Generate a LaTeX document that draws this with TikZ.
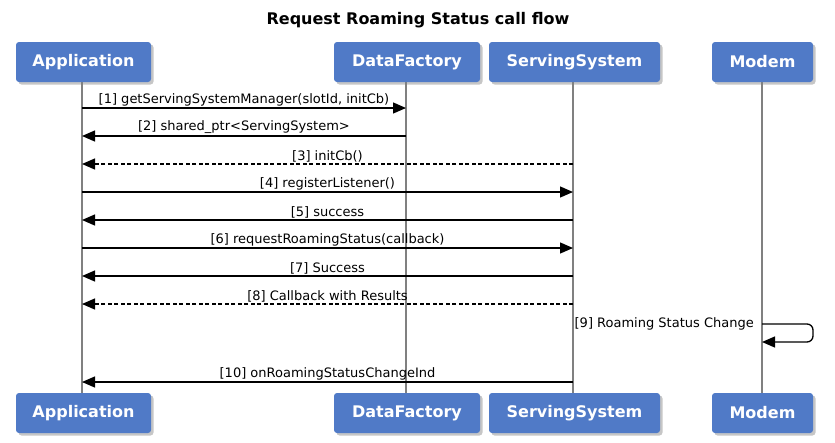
\documentclass[tikz,border=0pt]{standalone}
\usepackage{fontspec}
\setmainfont{DejaVu Sans}
\usetikzlibrary{arrows.meta,shadows}
\definecolor{boxblue}{RGB}{80,122,199}

\begin{document}
\begin{tikzpicture}[x=1pt,y=-1pt,font=\fontsize{13}{15}\selectfont,
  actor/.style={rectangle,rounded corners=3pt,fill=boxblue,minimum height=40pt,
    text=white,font=\bfseries\fontsize{16}{18}\selectfont,
    drop shadow={shadow xshift=2.5pt,shadow yshift=-2.5pt,opacity=0.45}},
  life/.style={draw=gray,line width=1.3pt},
  msg/.style={line width=1.3pt,-{Triangle[length=13pt,width=11pt]}},
  reply/.style={msg,dashed,dash pattern=on 4pt off 2.5pt},
  lbl/.style={anchor=south,inner sep=1.5pt}]
\useasboundingbox (0,0) rectangle (835,442);

\node[font=\bfseries\fontsize{16}{18}\selectfont] (title) at (418,20) {Request Roaming Status call flow};

% lifelines
\draw[life] (82,82) coordinate (appL) -- (82,393);
\draw[life] (406,82) coordinate (dfL) -- (406,393);
\draw[life] (573,82) coordinate (ssL) -- (573,393);
\draw[life] (762,82) coordinate (modL) -- (762,393);

\node[actor,minimum width=135pt] (appT) at (83.5,62) {Application};
\node[actor,minimum width=146pt] (dfT) at (407,62) {DataFactory};
\node[actor,minimum width=171pt] (ssT) at (574.5,62) {ServingSystem};
\node[actor,minimum width=101pt] (modT) at (762.5,62) {Modem};

\node[actor,minimum width=135pt] (appB) at (83.5,413) {Application};
\node[actor,minimum width=146pt] (dfB) at (407,413) {DataFactory};
\node[actor,minimum width=171pt] (ssB) at (574.5,413) {ServingSystem};
\node[actor,minimum width=101pt] (modB) at (762.5,413) {Modem};

% points on the lifelines
\foreach \n/\y in {1/108,2/136,3/164,4/192,5/220,6/248,7/276,8/304,9/324,10/382}{
  \coordinate (app\n) at (82,\y);
  \coordinate (df\n) at (406,\y);
  \coordinate (ss\n) at (573,\y);
  \coordinate (mod\n) at (762,\y);
}
\coordinate (loopA) at (813,324);
\coordinate (loopB) at (813,342);
\coordinate (loopC) at (762,342);

\draw[msg] (app1) -- node[lbl] {[1] getServingSystemManager(slotId, initCb)} (df1);
\draw[msg] (df2) -- node[lbl] {[2] shared\_ptr<ServingSystem>} (app2);
\draw[reply] (ss3) -- node[lbl] {[3] initCb()} (app3);
\draw[msg] (app4) -- node[lbl] {[4] registerListener()} (ss4);
\draw[msg] (ss5) -- node[lbl] {[5] success} (app5);
\draw[msg] (app6) -- node[lbl] {[6] requestRoamingStatus(callback)} (ss6);
\draw[msg] (ss7) -- node[lbl] {[7] Success} (app7);
\draw[reply] (ss8) -- node[lbl] {[8] Callback with Results} (app8);
\draw[msg,rounded corners=6pt] (mod9) -- (loopA) -- (loopB) -- (loopC);
\node[anchor=east,inner sep=0pt] (lbl9) at ([xshift=-8pt]mod9) {[9] Roaming Status Change};
\draw[msg] (ss10) -- node[lbl] {[10] onRoamingStatusChangeInd} (app10);
\end{tikzpicture}
\end{document}
